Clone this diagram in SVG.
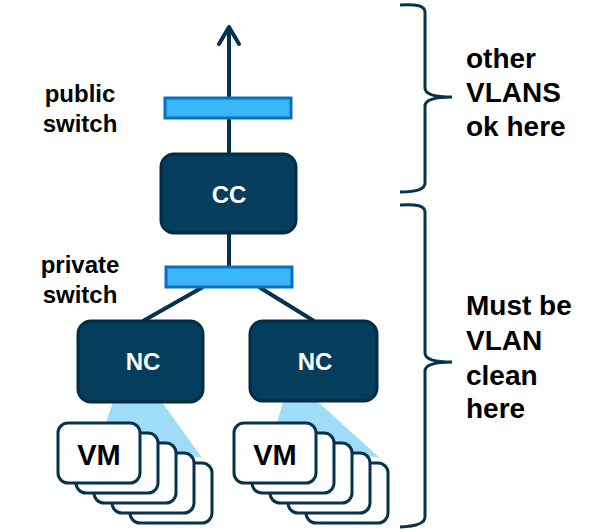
<svg xmlns="http://www.w3.org/2000/svg" width="612" height="532" viewBox="0 0 612 532">
<style>
.lbl{font-family:"Liberation Sans",Arial,sans-serif;font-weight:bold;fill:#000}
.side{font-size:24px;text-anchor:middle}
.note{font-size:28px}
.node{fill:#043e5c;stroke:#032d45;stroke-width:3}
.ntxt{font-family:"Liberation Sans",Arial,sans-serif;font-weight:bold;font-size:24px;fill:#fff;text-anchor:middle}
.sw{fill:#38b6f8;stroke:#0b70c0;stroke-width:3}
.vm{fill:#fff;stroke:#06324c;stroke-width:3}
.vtxt{font-family:"Liberation Sans",Arial,sans-serif;font-weight:bold;font-size:29px;fill:#000;text-anchor:middle}
.wire{stroke:#06324c;stroke-width:4;fill:none}
.brace{stroke:#06324c;stroke-width:3;fill:none}
.beam{fill:#9edcf8}
</style>
<g id="connectors">
<line class="wire" x1="229" y1="28" x2="229" y2="155"/>
<polyline class="wire" points="219,44 229,27 239,44" stroke-linecap="round" stroke-linejoin="round"/>
<line class="wire" x1="229" y1="233" x2="229" y2="267"/>
<line class="wire" x1="203" y1="287" x2="143" y2="321"/>
<line class="wire" x1="259" y1="287" x2="314" y2="321"/>
</g>
<g id="beams">
<polygon class="beam" points="113,402 162,402 202,458 100,440"/>
<polygon class="beam" points="283,402 318,402 380,458 272,440"/>
</g>
<g id="public-switch">
<rect class="sw" x="165" y="98" width="126" height="20"/>
</g>
<g id="private-switch">
<rect class="sw" x="166" y="267" width="126" height="20"/>
</g>
<g id="cc">
<rect class="node" x="161" y="154" width="135" height="79" rx="13"/>
<text class="ntxt" x="229" y="203">CC</text>
</g>
<g id="nc-left">
<rect class="node" x="78" y="321" width="125" height="81" rx="13"/>
<text class="ntxt" x="143" y="370">NC</text>
</g>
<g id="nc-right">
<rect class="node" x="250" y="321" width="127" height="80" rx="13"/>
<text class="ntxt" x="315" y="370">NC</text>
</g>
<g id="vm-left">
<rect class="vm" x="130" y="463" width="82" height="60" rx="10"/>
<rect class="vm" x="112" y="453" width="82" height="60" rx="10"/>
<rect class="vm" x="94" y="443" width="82" height="60" rx="10"/>
<rect class="vm" x="76" y="433" width="82" height="60" rx="10"/>
<rect class="vm" x="58" y="423" width="82" height="60" rx="10"/>
<text class="vtxt" x="99" y="465">VM</text>
</g>
<g id="vm-right">
<rect class="vm" x="306" y="463" width="82" height="60" rx="10"/>
<rect class="vm" x="288" y="453" width="82" height="60" rx="10"/>
<rect class="vm" x="270" y="443" width="82" height="60" rx="10"/>
<rect class="vm" x="252" y="433" width="82" height="60" rx="10"/>
<rect class="vm" x="234" y="423" width="82" height="60" rx="10"/>
<text class="vtxt" x="275" y="465">VM</text>
</g>
<g id="labels">
<text class="lbl side" x="80" y="102">public</text>
<text class="lbl side" x="80" y="132">switch</text>
<text class="lbl side" x="80" y="273">private</text>
<text class="lbl side" x="80" y="303">switch</text>
</g>
<g id="brace-top">
<path class="brace" d="M400,5 Q425,3 425,12 L425,88 Q425,97 452,97 Q425,97 425,106 L425,183 Q425,192 400,192"/>
<text class="lbl note" x="466" y="68">other</text>
<text class="lbl note" x="466" y="102">VLANS</text>
<text class="lbl note" x="466" y="136">ok here</text>
</g>
<g id="brace-bottom">
<path class="brace" d="M400,205 Q425,203 425,212 L425,353 Q425,362 452,362 Q425,362 425,371 L425,517 Q425,526 400,527"/>
<text class="lbl note" x="466" y="315">Must be</text>
<text class="lbl note" x="466" y="350">VLAN</text>
<text class="lbl note" x="466" y="385">clean</text>
<text class="lbl note" x="466" y="418">here</text>
</g>
</svg>
